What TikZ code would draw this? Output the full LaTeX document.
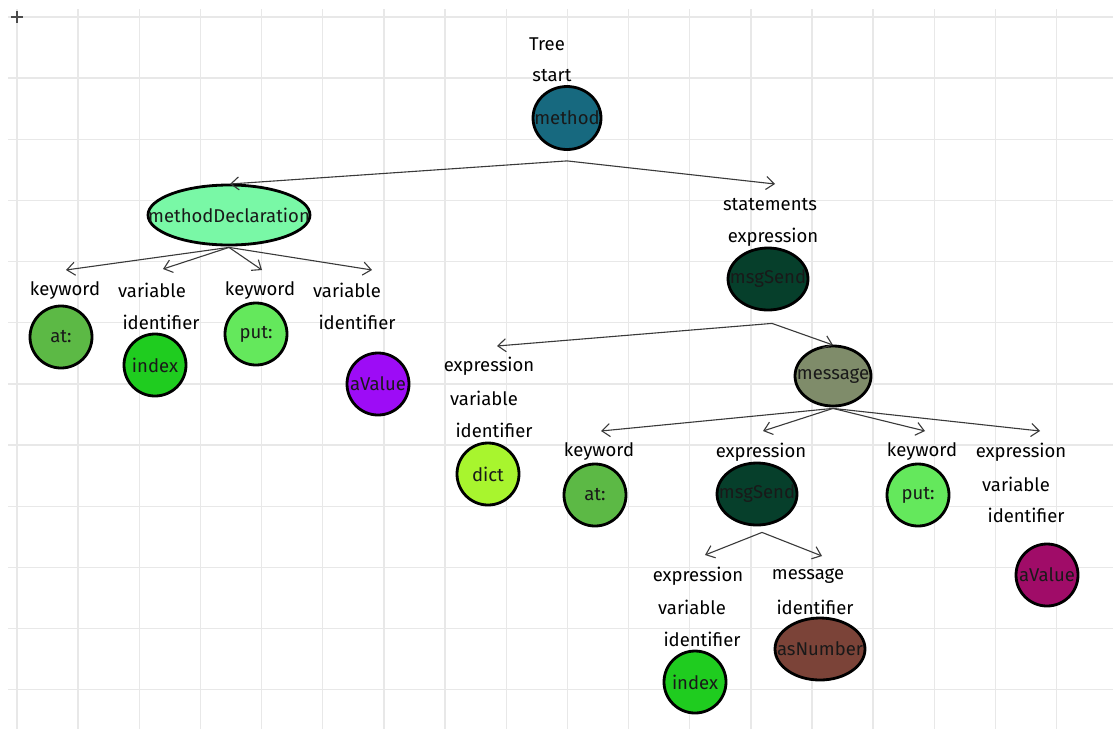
\documentclass[tikz,border=0pt]{standalone}
\usepackage{fontspec}
\setmainfont{Fira Sans}
\usetikzlibrary{shapes.geometric,arrows.meta}
\definecolor{gridc}{HTML}{E8E8E8}
\definecolor{edgec}{HTML}{3A3A3A}
\definecolor{cMethod}{HTML}{17697F}
\definecolor{cDecl}{HTML}{79F8A6}
\definecolor{cSend}{HTML}{063F2B}
\definecolor{cAt}{HTML}{5CB945}
\definecolor{cIndex}{HTML}{1FCC1F}
\definecolor{cPut}{HTML}{64E85C}
\definecolor{cValA}{HTML}{9D0CF6}
\definecolor{cDict}{HTML}{A8F52E}
\definecolor{cMsg}{HTML}{7F8C6A}
\definecolor{cValB}{HTML}{A00C68}
\definecolor{cNum}{HTML}{7B4338}
\tikzset{
  lbl/.style={inner sep=0pt, text=black, font=\fontsize{18.5}{20}\selectfont},
  tnode/.style={ellipse, draw=black, line width=2.8pt, inner sep=0pt,
    font=\fontsize{18.5}{20}\selectfont, text=black!90},
  arr/.style={draw=edgec, line width=1.1pt, -{Straight Barb[length=8pt,width=13pt,line width=1.1pt]}},
}
\newcommand{\ovr}[1]{\makebox[0pt]{#1}}
\begin{document}
\begin{tikzpicture}[x=1pt,y=-1pt]
  \useasboundingbox (0,0) rectangle (1113,729);
  \fill[white] (0,0) rectangle (1113,729);
  % background grid
  \foreach \k in {0,...,17} \draw[gridc, line width=1.4pt] ({17+61.15*\k},9) -- ({17+61.15*\k},729);
  \foreach \k in {0,...,11} \draw[gridc, line width=1.4pt] (8,{17+61.15*\k}) -- (1113,{17+61.15*\k});
  \draw[black!70, line width=1.2pt] (11,17) -- (23,17) (17,11) -- (17,23);

  % root
  \node[lbl] (tree) at (547,44) {Tree};
  \node[lbl] (start) at (552,76) {start};
  \node[tnode, fill=cMethod, minimum width=68pt, minimum height=63pt] (method) at (567,118) {\ovr{method}};

  % methodDeclaration branch
  \node[tnode, fill=cDecl, minimum width=162pt, minimum height=60pt] (decl) at (229,215) {\ovr{methodDeclaration}};
  \node[lbl] (kw1) at (65,291) {keyword};
  \node[tnode, fill=cAt, minimum width=62pt, minimum height=62pt] (at1) at (61,337) {\ovr{at:}};
  \node[lbl] (var1) at (152,290) {variable};
  \node[lbl] (id1) at (161,322) {identifier};
  \node[tnode, fill=cIndex, minimum width=62pt, minimum height=62pt] (index1) at (155,365) {\ovr{index}};
  \node[lbl] (kw2) at (260,291) {keyword};
  \node[tnode, fill=cPut, minimum width=62pt, minimum height=62pt] (put1) at (256,334) {\ovr{put:}};
  \node[lbl] (var2) at (347,290) {variable};
  \node[lbl] (id2) at (357,322) {identifier};
  \node[tnode, fill=cValA, minimum width=62pt, minimum height=62pt] (val1) at (378,384) {\ovr{aValue}};

  % statements branch
  \node[lbl] (stm) at (770,205) {statements};
  \node[lbl] (ex1) at (773,237) {expression};
  \node[tnode, fill=cSend, minimum width=80pt, minimum height=62pt] (send1) at (768,279) {\ovr{msgSend}};
  \node[lbl] (ex2) at (489,366) {expression};
  \node[lbl] (var3) at (484,398) {variable};
  \node[lbl] (id3) at (494,430) {identifier};
  \node[tnode, fill=cDict, minimum width=62pt, minimum height=62pt] (dict) at (488,474) {\ovr{dict}};
  \node[tnode, fill=cMsg, minimum width=76pt, minimum height=60pt] (msg) at (833,376) {\ovr{message}};

  % message children
  \node[lbl] (kw3) at (599,452) {keyword};
  \node[tnode, fill=cAt, minimum width=62pt, minimum height=62pt] (at2) at (595,495) {\ovr{at:}};
  \node[lbl] (ex3) at (761,452) {expression};
  \node[tnode, fill=cSend, minimum width=80pt, minimum height=62pt] (send2) at (757,494) {\ovr{msgSend}};
  \node[lbl] (kw4) at (922,452) {keyword};
  \node[tnode, fill=cPut, minimum width=62pt, minimum height=62pt] (put2) at (918,495) {\ovr{put:}};
  \node[lbl] (ex4) at (1021,452) {expression};
  \node[lbl] (var4) at (1016,484) {variable};
  \node[lbl] (id4) at (1026,515) {identifier};
  \node[tnode, fill=cValB, minimum width=62pt, minimum height=62pt] (val2) at (1047,575) {\ovr{aValue}};

  % inner msgSend children
  \node[lbl] (ex5) at (698,576) {expression};
  \node[lbl] (var5) at (692,607) {variable};
  \node[lbl] (id5) at (702,639) {identifier};
  \node[tnode, fill=cIndex, minimum width=62pt, minimum height=62pt] (index2) at (695,682) {\ovr{index}};
  \node[lbl] (msgl) at (808,576) {message};
  \node[lbl] (id6) at (815,607) {identifier};
  \node[tnode, fill=cNum, minimum width=90pt, minimum height=62pt] (num) at (820,649) {\ovr{asNumber}};

  % branch points below each parent and arrow tips above each child
  \coordinate (f0) at ([yshift=-10pt]method.south);
  \coordinate (f1) at ([yshift=-1pt]decl.south);
  \coordinate (f2) at ([xshift=4pt,yshift=-12pt]send1.south);
  \coordinate (f3) at ([yshift=-1pt]msg.south);
  \coordinate (f4) at ([xshift=5pt,yshift=-6pt]send2.south);
  \coordinate (t01) at (230,184);
  \coordinate (t02) at (775,184);
  \coordinate (t11) at (66,270);
  \coordinate (t12) at (163,269);
  \coordinate (t13) at (262,270);
  \coordinate (t14) at (372,270);
  \coordinate (t21) at (497,346);
  \coordinate (t22) at (833,345);
  \coordinate (t31) at (601,431);
  \coordinate (t32) at (763,431);
  \coordinate (t33) at (925,431);
  \coordinate (t34) at (1040,431);
  \coordinate (t41) at (705,555);
  \coordinate (t42) at (822,556);

  \draw[arr] (f0) -- (t01);
  \draw[arr] (f0) -- (t02);
  \draw[arr] (f1) -- (t11);
  \draw[arr] (f1) -- (t12);
  \draw[arr] (f1) -- (t13);
  \draw[arr] (f1) -- (t14);
  \draw[arr] (f2) -- (t21);
  \draw[arr] (f2) -- (t22);
  \draw[arr] (f3) -- (t31);
  \draw[arr] (f3) -- (t32);
  \draw[arr] (f3) -- (t33);
  \draw[arr] (f3) -- (t34);
  \draw[arr] (f4) -- (t41);
  \draw[arr] (f4) -- (t42);
\end{tikzpicture}
\end{document}
